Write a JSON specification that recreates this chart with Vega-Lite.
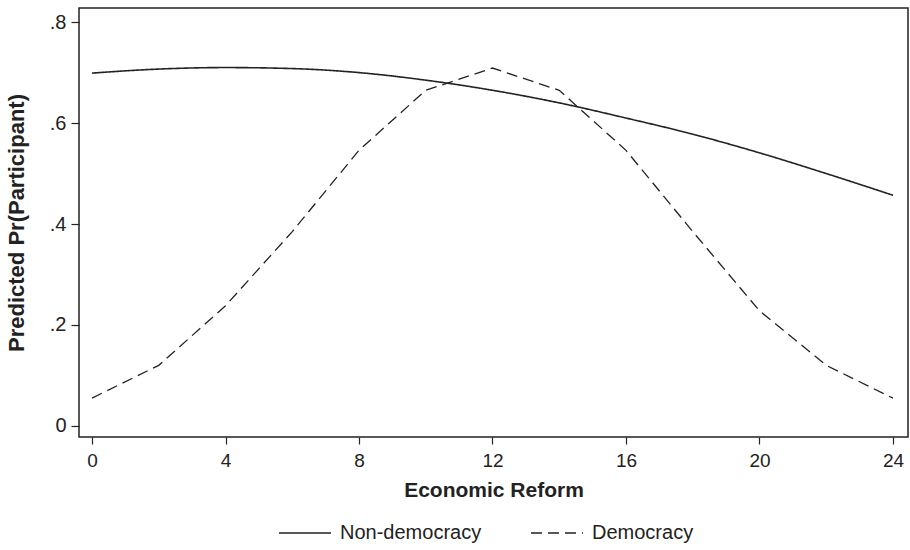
{
  "$schema": "https://vega.github.io/schema/vega-lite/v6.json",
  "width": 829,
  "height": 429,
  "autosize": {"type": "none"},
  "padding": {"left": 79, "top": 8, "right": 2, "bottom": 113},
  "background": "white",
  "config": {
    "view": {"stroke": "#222", "strokeWidth": 1.5},
    "font": "Liberation Sans"
  },
  "data": {
    "values": [
      {"x": 0, "y": 0.699, "g": "Non-democracy"},
      {"x": 2, "y": 0.707, "g": "Non-democracy"},
      {"x": 4, "y": 0.710, "g": "Non-democracy"},
      {"x": 6, "y": 0.708, "g": "Non-democracy"},
      {"x": 8, "y": 0.700, "g": "Non-democracy"},
      {"x": 10, "y": 0.685, "g": "Non-democracy"},
      {"x": 12, "y": 0.665, "g": "Non-democracy"},
      {"x": 14, "y": 0.640, "g": "Non-democracy"},
      {"x": 16, "y": 0.610, "g": "Non-democracy"},
      {"x": 18, "y": 0.578, "g": "Non-democracy"},
      {"x": 20, "y": 0.541, "g": "Non-democracy"},
      {"x": 22, "y": 0.500, "g": "Non-democracy"},
      {"x": 24, "y": 0.457, "g": "Non-democracy"},
      {"x": 0, "y": 0.055, "g": "Democracy"},
      {"x": 2, "y": 0.120, "g": "Democracy"},
      {"x": 4, "y": 0.238, "g": "Democracy"},
      {"x": 6, "y": 0.385, "g": "Democracy"},
      {"x": 8, "y": 0.546, "g": "Democracy"},
      {"x": 10, "y": 0.665, "g": "Democracy"},
      {"x": 12, "y": 0.709, "g": "Democracy"},
      {"x": 14, "y": 0.665, "g": "Democracy"},
      {"x": 16, "y": 0.546, "g": "Democracy"},
      {"x": 18, "y": 0.385, "g": "Democracy"},
      {"x": 20, "y": 0.228, "g": "Democracy"},
      {"x": 22, "y": 0.120, "g": "Democracy"},
      {"x": 24, "y": 0.055, "g": "Democracy"}
    ]
  },
  "encoding": {
    "x": {
      "field": "x", "type": "quantitative",
      "scale": {"domain": [-0.39, 24.45], "nice": false, "zero": false},
      "axis": {
        "values": [0, 4, 8, 12, 16, 20, 24],
        "title": "Economic Reform",
        "titleFont": "Liberation Sans", "titleFontSize": 21, "titleFontWeight": "bold", "titleColor": "#222",
        "titlePadding": 9,
        "labelFont": "Liberation Sans", "labelFontSize": 19, "labelColor": "#222", "labelPadding": 7,
        "tickSize": 7, "tickColor": "#222", "tickWidth": 1.2,
        "domain": false, "grid": false
      }
    },
    "y": {
      "field": "y", "type": "quantitative",
      "scale": {"domain": [-0.022, 0.828], "nice": false, "zero": false},
      "axis": {
        "values": [0, 0.2, 0.4, 0.6, 0.8],
        "labelExpr": "datum.value == 0 ? '0' : replace(format(datum.value, '.1f'), '0.', '.')",
        "title": "Predicted Pr(Participant)",
        "titleFont": "Liberation Sans", "titleFontSize": 22, "titleFontWeight": "bold", "titleColor": "#222",
        "titlePadding": 21,
        "labelFont": "Liberation Sans", "labelFontSize": 20, "labelColor": "#222", "labelPadding": 5,
        "tickSize": 8, "tickColor": "#222", "tickWidth": 1.2,
        "domain": false, "grid": false
      }
    },
    "strokeDash": {
      "field": "g", "type": "nominal",
      "scale": {"domain": ["Non-democracy", "Democracy"], "range": [[1, 0], [11, 6]]},
      "legend": {
        "title": null, "orient": "none", "direction": "horizontal",
        "legendX": 199, "legendY": 498,
        "symbolType": "stroke", "symbolSize": 2704, "symbolStrokeColor": "#222", "symbolStrokeWidth": 1.3,
        "labelFont": "Liberation Sans", "labelFontSize": 20, "labelColor": "#222", "labelOffset": 8,
        "columnPadding": 46
      }
    }
  },
  "layer": [
    {
      "transform": [{"filter": "datum.g == 'Non-democracy'"}],
      "mark": {"type": "line", "interpolate": "monotone", "strokeWidth": 1.6, "color": "#222"}
    },
    {
      "transform": [{"filter": "datum.g == 'Democracy'"}],
      "mark": {"type": "line", "interpolate": "linear", "strokeWidth": 1.3, "color": "#222"}
    }
  ]
}
